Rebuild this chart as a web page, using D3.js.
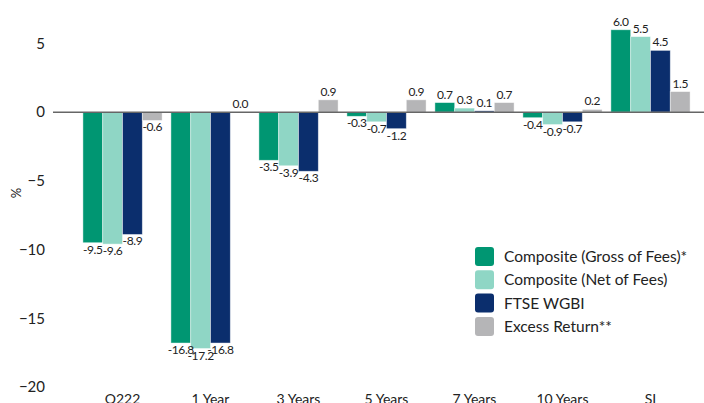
<!DOCTYPE html>
<html>
<head>
<meta charset="utf-8">
<script src="https://cdn.jsdelivr.net/npm/d3@7"></script>
<style>
    body { margin: 0; background: #fff; }
    svg { display: block; font-family: Lato, "Open Sans", sans-serif; }
</style>
</head>
<body>
<div id="chart"></div>
<script>
var categories = ['Q222', '1 Year', '3 Years', '5 Years', '7 Years', '10 Years', 'SI'];
var seriesNames = ['Composite (Gross of Fees)*', 'Composite (Net of Fees)', 'FTSE WGBI', 'Excess Return**'];
var grossValues = [-9.5, -16.8, -3.5, -0.3, 0.7, -0.4, 6.0];
var netValues = [-9.6, -17.2, -3.9, -0.7, 0.3, -0.9, 5.5];
var wgbiValues = [-8.9, -16.8, -4.3, -1.2, 0.1, -0.7, 4.5];
var excessValues = [-0.6, 0.0, 0.9, 0.9, 0.7, 0.2, 1.5];
var yTicks = [5, 0, -5, -10, -15, -20];
var colors = ['#009672', '#8fd6c5', '#0b2e6d', '#b5b5b7'];

var allValues = [grossValues, netValues, wgbiValues, excessValues];

var width = 704,
    height = 403;

var svg = d3.select('#chart').append('svg')
    .attr('width', width)
    .attr('height', height);

var x = d3.scaleBand()
    .domain(categories)
    .range([53, 720])
    .paddingInner(0.1)
    .paddingOuter(0.34);

var xInner = d3.scaleBand()
    .domain(seriesNames)
    .range([0, x.bandwidth()]);

var y = d3.scaleLinear()
    .domain([-20, 5])
    .range([387, 43.5]);

// y tick labels (no axis line)
svg.append('g')
    .selectAll('text')
    .data(yTicks)
    .enter()
    .append('text')
    .attr('x', 45)
    .attr('y', function(d) { return y(d); })
    .attr('dy', '.35em')
    .attr('text-anchor', 'end')
    .style('font-size', '15px')
    .style('fill', '#222')
    .text(function(d) { return d3.format('')(d).replace('-', '\u2212'); });

svg.append('text')
    .attr('transform', 'translate(21,193) rotate(-90)')
    .attr('text-anchor', 'middle')
    .style('font-size', '13px')
    .style('fill', '#222')
    .text('%');

// bars
var rows = [];
categories.forEach(function(cat, i) {
    seriesNames.forEach(function(s, j) {
        rows.push({ cat: cat, series: s, idx: j, value: allValues[j][i] });
    });
});

var groups = svg.append('g');

groups.selectAll('rect')
    .data(rows)
    .enter()
    .append('rect')
    .attr('x', function(d) { return x(d.cat) + xInner(d.series); })
    .attr('y', function(d) { return y(Math.max(0, d.value)); })
    .attr('width', xInner.bandwidth())
    .attr('height', function(d) { return Math.abs(y(d.value) - y(0)); })
    .style('fill', function(d) { return colors[d.idx]; })
    .style('stroke', 'rgba(255,255,255,0.55)')
    .style('stroke-width', '0.8px');

// zero line
svg.append('line')
    .attr('x1', x.range()[0])
    .attr('x2', x.range()[1])
    .attr('y1', y(0))
    .attr('y2', y(0))
    .style('stroke', '#666')
    .style('stroke-width', '1.5px');

// value labels
groups.selectAll('text.val')
    .data(rows)
    .enter()
    .append('text')
    .attr('class', 'val')
    .attr('x', function(d) { return x(d.cat) + xInner(d.series) + xInner.bandwidth() / 2; })
    .attr('y', function(d) { return d.value < 0 ? y(d.value) + 11 : y(d.value) - 4; })
    .attr('text-anchor', 'middle')
    .style('font-size', '12px')
    .style('letter-spacing', '-0.4px')
    .style('fill', '#222')
    .text(function(d) { return d.value.toFixed(1); });

// category labels
svg.append('g')
    .selectAll('text')
    .data(categories)
    .enter()
    .append('text')
    .attr('x', function(d) { return x(d) + x.bandwidth() / 2; })
    .attr('y', 404)
    .attr('text-anchor', 'middle')
    .style('font-size', '14px')
    .style('fill', '#222')
    .text(function(d) { return d; });

// legend
var legend = svg.append('g')
    .attr('transform', 'translate(475,247)');

var item = legend.selectAll('g')
    .data(seriesNames)
    .enter()
    .append('g')
    .attr('transform', function(d, i) { return 'translate(0,' + (i * 23.3) + ')'; });

item.append('rect')
    .attr('width', 19)
    .attr('height', 19)
    .attr('rx', 3)
    .style('fill', function(d, i) { return colors[i]; });

item.append('text')
    .attr('x', 29)
    .attr('y', 9.5)
    .attr('dy', '.35em')
    .style('font-size', '15.5px')
    .style('fill', '#222')
    .text(function(d) { return d; });
</script>
</body>
</html>
